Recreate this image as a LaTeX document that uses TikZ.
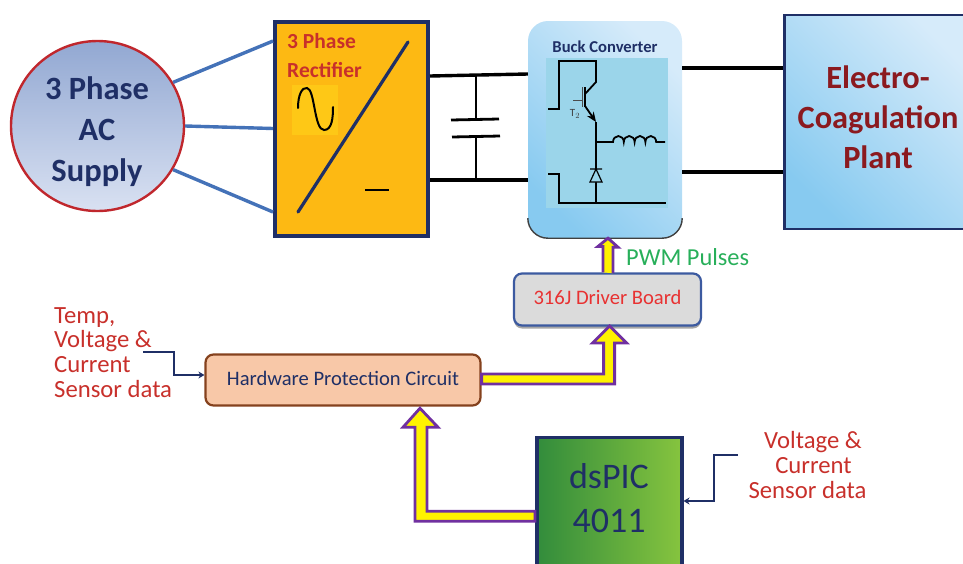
\documentclass[tikz,border=0pt]{standalone}
\usepackage{fontspec}
\setmainfont{Carlito}
\usetikzlibrary{arrows.meta,shadows,shapes.geometric}
\definecolor{navy}{HTML}{1F2F66}
\definecolor{wireblue}{HTML}{4472B8}
\definecolor{ringred}{HTML}{C0272D}
\definecolor{txtred}{HTML}{C8302B}
\definecolor{plantred}{HTML}{8B1A1F}
\definecolor{amber}{HTML}{FDB913}
\definecolor{patch}{HTML}{FEC816}
\definecolor{fatline}{HTML}{7030A0}
\definecolor{fatfill}{HTML}{FFF200}
\definecolor{inner}{HTML}{9BD5EA}
\definecolor{skyA}{HTML}{87CAF0}
\definecolor{skyB}{HTML}{D6EBFA}
\tikzset{
 x=1pt,y=-1pt,
 wire/.style={line width=3.4pt,black},
 phase/.style={line width=3.4pt,wireblue},
 ckt/.style={line width=1.8pt,black},
 fatarrow/.style={draw=fatline,fill=fatfill,line width=2.8pt,miter limit=10},
 sig/.style={line width=2.2pt,navy,-{Stealth[length=6pt,width=7pt]}},
 lbl/.style={align=left,text=txtred,font=\fontsize{24.7}{24.7}\selectfont,inner sep=0pt},
 sky/.style={bottom color=skyA,top color=skyB,shading angle=-45},
}
\begin{document}
\begin{tikzpicture}
\useasboundingbox (0,0) rectangle (963,563);
% top row
\node[ellipse,draw=ringred,line width=2.4pt,
      top color={rgb,255:red,146;green,168;blue,210},bottom color={rgb,255:red,217;green,225;blue,242},
      minimum width=173pt,minimum height=170pt,inner sep=0pt] (ac) at (97.5,126) {};
\node[text=navy,font=\bfseries\fontsize{32.5}{41}\selectfont,align=center,inner sep=0pt] (aclbl) at (97,132) {3 Phase\\AC\\Supply};
\node[draw=navy,fill=amber,line width=4pt,minimum width=153pt,minimum height=214pt,inner sep=0pt] (rect) at (351.5,128.5) {};
\draw[phase] (ac.30) -- ([yshift=87.5pt]rect.west);
\draw[phase] (ac.east) -- (rect.west);
\draw[phase] (ac.-30) -- ([yshift=-83.5pt]rect.west);
\node[inner sep=0pt,anchor=west,text=txtred,font=\bfseries\fontsize{21.5}{24}\selectfont] (r1) at (287,41) {3 Phase};
\node[inner sep=0pt,anchor=west,text=txtred,font=\bfseries\fontsize{21.5}{24}\selectfont] (r2) at (287,70) {Rectifier};
\fill[patch] (292,85) rectangle (338,135);
\draw[line width=2pt,black,line cap=round] (298,108) .. controls (298,95) and (302,87) .. (307,88) .. controls (315,89) and (314,130) .. (324,130) .. controls (332,130) and (333,118) .. (333,107);
\draw[line width=3.2pt,navy,line cap=round] (408,42) -- (298,212);
\draw[line width=2.4pt,black] (365,190) -- (389,190);
% buck
\node[rounded corners=20pt,minimum width=154pt,minimum height=217pt,inner sep=0pt,sky] (buck) at (605,129.5) {};
\draw[line width=1.4pt,black!75,rounded corners=20pt] ([yshift=20pt]buck.south west) -- (buck.south west) -- (buck.south east) -- ([yshift=20pt]buck.south east);
\fill[inner] (546,58) rectangle (668,208);
\node[inner sep=0pt,text=navy,font=\bfseries\fontsize{16.6}{18}\selectfont] (bl) at (605,47) {Buck Converter};
\draw[ckt] (548,109) -- (559,109) -- (559,61) -- (596,61) -- (596,82) -- (585,94);
\draw[ckt] (585,87) -- (585,107);
\draw[line width=1pt,black!70] (582,87) -- (582,107) (573,100) -- (582,100);
\draw[ckt,-{Stealth[length=10pt,width=8pt]}] (585,106) -- (596,122);
\draw[ckt] (596,122) -- (596,203);
\draw[ckt] (596,142) -- (613,142) arc[start angle=180,end angle=0,x radius=5.4pt,y radius=6pt] arc[start angle=180,end angle=0,x radius=5.4pt,y radius=6pt] arc[start angle=180,end angle=0,x radius=5.4pt,y radius=6pt] arc[start angle=180,end angle=0,x radius=5.4pt,y radius=6pt] -- (665,142);
\draw[line width=1.2pt,black,fill=inner] (590,169) -- (602,169) (596,169) -- (590,182) -- (602,182) -- cycle;
\draw[ckt] (548,174) -- (559,174) -- (559,203) -- (666,203);
\node[inner sep=0pt,text=black!75,font=\fontsize{11}{11}\selectfont] (t2) at (575,114) {T$_2$};
% wires
\draw[wire] ([yshift=52.5pt]rect.east) -- ([yshift=55.5pt]buck.west);
\draw[wire] ([yshift=-51.5pt]rect.east) -- ([yshift=-50.5pt]buck.west);
\coordinate (captop) at (476,76);
\coordinate (capbot) at (476,180);
\draw[line width=2.8pt] (captop) -- (476,120) (476,136) -- (capbot);
\draw[line width=2.8pt] (451,120) -- (499,119) (452,137) -- (500,136);
% plant
\node[draw=navy,line width=2.5pt,minimum width=190pt,minimum height=214pt,inner sep=0pt,sky,anchor=west] (plant) at (783,122) {};
\draw[wire] ([yshift=61.5pt]buck.east) -- ([yshift=54pt]plant.west);
\draw[wire] ([yshift=-42.5pt]buck.east) -- ([yshift=-50pt]plant.west);
\node[inner sep=0pt,text=plantred,font=\bfseries\fontsize{32.4}{40}\selectfont,align=center] (pl) at (878,117) {Electro-\\Coagulation\\Plant};
% lower
\node[draw={rgb,255:red,60;green,90;blue,160},line width=2.2pt,fill=black!14,rounded corners=8pt,minimum width=187pt,minimum height=52pt,inner sep=0pt,
      text={rgb,255:red,232;green,50;blue,50},font=\fontsize{20.6}{22}\selectfont,drop shadow={shadow xshift=0pt,shadow yshift=-3pt,fill=black!35,opacity=1}] (drv) at (607.5,299.5) {\raisebox{4pt}{316J Driver Board}};
\node[draw={rgb,255:red,133;green,66;blue,30},line width=2.2pt,fill={rgb,255:red,248;green,200;blue,168},rounded corners=8pt,minimum width=275pt,minimum height=51pt,inner sep=0pt,
      text=navy,font=\fontsize{20.6}{22}\selectfont] (hpc) at (343,380) {\raisebox{3pt}{Hardware Protection Circuit}};
\node[draw=navy,line width=3.5pt,minimum width=145pt,minimum height=150pt,inner sep=0pt,anchor=north west,
      left color={rgb,255:red,50;green,140;blue,60},middle color={rgb,255:red,84;green,184;blue,72},right color={rgb,255:red,134;green,196;blue,62}] (dsp) at (535,435.5) {};
\node[inner sep=0pt,text=navy,font=\fontsize{36}{44}\selectfont,align=center] (dspl) at (609,498) {dsPIC\\4011};
% fat arrows
\draw[fatarrow] ([xshift=-4.5pt]drv.north) -- ++(0,-26) -- ++(-5,0) -- ([xshift=3pt]buck.south) -- ++(10,9) -- ++(-5,0) -- ++(0,26);
\draw[fatarrow] ([yshift=6pt]hpc.east) -- ++(122,0) -- ++(0,-31) -- ++(-11,0) -- ++(17,-17) -- ++(17,17) -- ++(-12,0) -- ++(0,41) -- ([yshift=-4pt]hpc.east) -- cycle;
\draw[fatarrow] ([yshift=1pt]dsp.west) -- ++(-108,0) -- ++(0,-84) -- ++(11,0) -- ++(-18,-19) -- ++(-17,19) -- ++(12,0) -- ++(0,94) -- ([yshift=-9pt]dsp.west) -- cycle;
\node[inner sep=0pt,anchor=west,text={rgb,255:red,40;green,175;blue,90},font=\fontsize{24.4}{26}\selectfont] (pwm) at (626,257) {PWM Pulses};
% sensor labels
\node[lbl,anchor=north west] (s1) at (54,307) {Temp,\\Voltage \&\\Current\\Sensor data};
\coordinate (s1out) at (143,352);
\draw[sig] (s1out) -- (174,352) -- (174,375) -- (hpc.west |- 0,375);
\node[lbl,align=center,anchor=north] (s2) at (807.5,431.5) {\hspace*{11pt}Voltage \&\\\hspace*{12pt}Current\\Sensor data};
\coordinate (s2out) at (738,455);
\draw[sig] (s2out) -- (714,455) -- (714,501) -- (dsp.east |- 0,501);
\end{tikzpicture}
\end{document}
